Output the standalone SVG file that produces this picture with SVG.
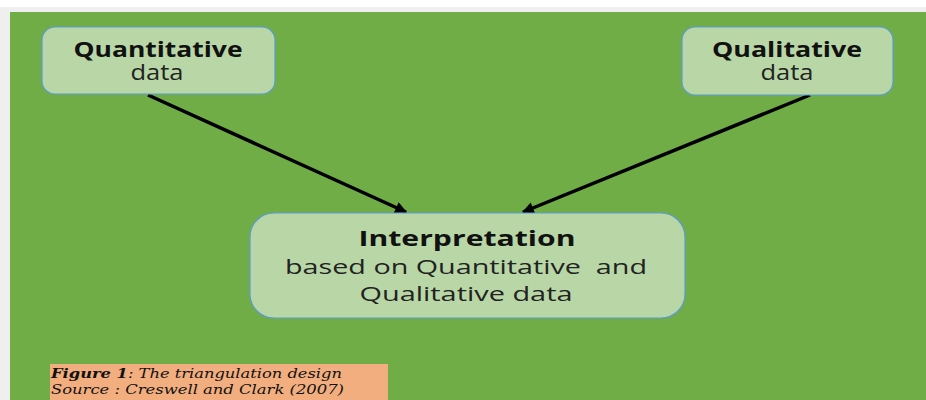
<svg xmlns="http://www.w3.org/2000/svg" width="926" height="400" viewBox="0 0 926 400">
  <style>
    .node rect { fill: #b9d7a6; stroke: #5b9bd5; stroke-width: 1.2; }
    .title { font-family: "Open Sans", "Liberation Sans", sans-serif; font-weight: bold; fill: #111; text-anchor: middle; }
    .sub { font-family: "Open Sans", "Liberation Sans", sans-serif; fill: #222; text-anchor: middle; }
    .edge { stroke: #000; stroke-width: 3.5; fill: none; }
    .caption { font-family: "DejaVu Serif", "Liberation Serif", serif; font-style: italic; font-size: 13px; fill: #111; }
  </style>
  <defs>
    <marker id="arrow" viewBox="0 0 10 10" refX="9" refY="5" markerWidth="4.2" markerHeight="3.4" orient="auto" markerUnits="strokeWidth">
      <path d="M0,0 L10,5 L0,10 z" fill="#000"/>
    </marker>
  </defs>

  <!-- page frame and canvas -->
  <rect x="0" y="0" width="926" height="400" fill="#ffffff"/>
  <rect x="0" y="7" width="926" height="393" fill="#efefef"/>
  <rect x="10" y="12" width="916" height="388" fill="#70ad47"/>

  <!-- connectors -->
  <g id="connectors">
    <line class="edge" x1="148" y1="95" x2="406" y2="212" marker-end="url(#arrow)"/>
    <line class="edge" x1="810" y1="95" x2="523" y2="212" marker-end="url(#arrow)"/>
  </g>

  <g id="quantitative" class="node">
    <rect x="42" y="27" width="233" height="67" rx="13"/>
    <text class="title" x="158" y="57" font-size="22" textLength="169" lengthAdjust="spacingAndGlyphs">Quantitative</text>
    <text class="sub" x="157" y="80" font-size="21" textLength="53" lengthAdjust="spacingAndGlyphs">data</text>
  </g>

  <g id="qualitative" class="node">
    <rect x="682" y="27" width="211" height="68" rx="13"/>
    <text class="title" x="787" y="57" font-size="22" textLength="150" lengthAdjust="spacingAndGlyphs">Qualitative</text>
    <text class="sub" x="787" y="80" font-size="21" textLength="53" lengthAdjust="spacingAndGlyphs">data</text>
  </g>

  <g id="interpretation" class="node">
    <rect x="250" y="213" width="435" height="105" rx="24"/>
    <text class="title" x="467" y="246" font-size="21" textLength="217" lengthAdjust="spacingAndGlyphs">Interpretation</text>
    <text class="sub" x="466" y="274" font-size="20" textLength="362" lengthAdjust="spacingAndGlyphs" xml:space="preserve">based on Quantitative  and</text>
    <text class="sub" x="466" y="301" font-size="20" textLength="213" lengthAdjust="spacingAndGlyphs">Qualitative data</text>
  </g>

  <g id="caption">
    <rect x="50" y="364" width="338" height="36" fill="#f2ae7f"/>
    <text class="caption" x="51" y="378" textLength="291" lengthAdjust="spacingAndGlyphs"><tspan font-weight="bold">Figure 1</tspan>: The triangulation design</text>
    <text class="caption" x="51" y="394" textLength="293" lengthAdjust="spacingAndGlyphs">Source : Creswell and Clark (2007)</text>
  </g>
</svg>
